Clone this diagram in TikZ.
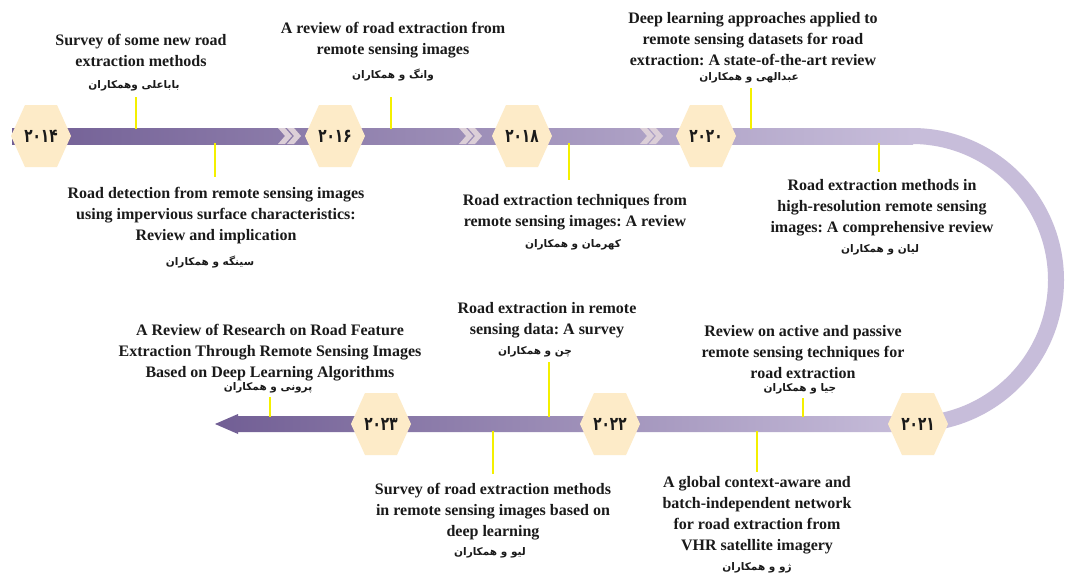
\documentclass[tikz,border=0pt]{standalone}
\usepackage{fontspec}
\setmainfont{Liberation Serif}
\newfontfamily\fa[Script=Arabic]{DejaVu Sans}
\newfontfamily\fadigits[Script=Arabic, FakeStretch=0.72]{DejaVu Sans}
\TeXXeTstate=1
\frenchspacing

\definecolor{hexfill}{HTML}{FDEBC8}
\definecolor{roaddark}{HTML}{715E94}
\definecolor{roadlight}{HTML}{C7BDDA}
\definecolor{tickyellow}{HTML}{F4F000}
\definecolor{chev}{HTML}{DCCFD8}
\definecolor{ink}{HTML}{1A1A1A}

\tikzset{
  title/.style={font=\bfseries\fontsize{16}{21}\selectfont, align=center, inner sep=0pt, text=ink},
  author/.style={font=\fa\bfseries\fontsize{10.5}{12}\selectfont, inner sep=0pt, text=ink},
  yearlbl/.style={font=\fadigits\bfseries\fontsize{19}{20}\selectfont, inner sep=0pt, text=ink},
  tick/.style={draw=tickyellow, line width=2.6pt},
  chevron/.style={fill=chev}
}

% a flat-topped hexagon with a year label in its centre
\newcommand\yearhex[4]{%
  \fill[hexfill] (#2-30,#3) -- (#2-16,#3-31) -- (#2+16,#3-31) -- (#2+30,#3)
      -- (#2+16,#3+31) -- (#2-16,#3+31) -- cycle;
  \node[yearlbl] (#1) at (#2,#3) {#4};}

% a pair of chevrons pointing right
\newcommand\chevpair[2]{%
  \foreach \d in {0,9}{
    \fill[chevron] (#1+\d,#2-8) -- (#1+\d+7,#2-8) -- (#1+\d+14,#2) -- (#1+\d+7,#2+8)
        -- (#1+\d,#2+8) -- (#1+\d+7,#2) -- cycle;}}

\begin{document}
\begin{tikzpicture}[x=1pt,y=-1pt]
\useasboundingbox (0,0) rectangle (1071,576);
\fill[white] (0,0) rectangle (1071,576);

% the road: upper straight, right-hand bend, lower straight ending in an arrow
\shade[left color=roaddark, right color=roadlight] (12,128) rectangle (913,144);
\draw[roadlight, line width=16pt] (912,136) arc (-90:90:144);
\shade[left color=roaddark, right color=roadlight]
  (913,416) -- (238,416) -- (238,414) -- (215,424) -- (238,434) -- (238,432) -- (913,432) -- cycle;

\chevpair{278}{136}
\chevpair{459}{136}
\chevpair{640}{136}

% yellow markers tying each paper to the road
\draw[tick] (136,97) -- (136,129);
\draw[tick] (215,143) -- (215,177);
\draw[tick] (391,97) -- (391,129);
\draw[tick] (569,143) -- (569,180);
\draw[tick] (751,88) -- (751,129);
\draw[tick] (879,143) -- (879,172);
\draw[tick] (803,398) -- (803,417);
\draw[tick] (757,431) -- (757,472);
\draw[tick] (549,362) -- (549,417);
\draw[tick] (493,431) -- (493,474);
\draw[tick] (270,397) -- (270,417);

% years
\yearhex{y2014}{41}{136}{۲۰۱۴}
\yearhex{y2016}{335}{136}{۲۰۱۶}
\yearhex{y2018}{522}{136}{۲۰۱۸}
\yearhex{y2020}{706}{136}{۲۰۲۰}
\yearhex{y2021}{918}{424}{۲۰۲۱}
\yearhex{y2022}{610}{424}{۲۰۲۲}
\yearhex{y2023}{381}{424}{۲۰۲۳}

% paper titles and authors
\node[title] (t1) at (141,50) {Survey of some new road\\extraction methods};
\node[author] (a1) at (134,86) {\beginR باباعلی وهمکاران\endR};

\node[title] (t2) at (393,40) {A review of road extraction from\\remote sensing images};
\node[author] (a2) at (393,75) {\beginR وانگ و همکاران\endR};

\node[title] (t3) at (753,39) {Deep learning approaches applied to\\remote sensing datasets for road\\extraction: A state-of-the-art review};
\node[author] (a3) at (749,78) {\beginR عبدالهی و همکاران\endR};

\node[title] (t4) at (216,216) {Road detection from remote sensing images\\using impervious surface characteristics:\\Review and implication};
\node[author] (a4) at (210,262) {\beginR سینگه و همکاران\endR};

\node[title] (t5) at (575,212) {Road extraction techniques from\\remote sensing images: A review};
\node[author] (a5) at (573,245) {\beginR کهرمان و همکاران\endR};

\node[title] (t6) at (882,208) {Road extraction methods in\\high-resolution remote sensing\\images: A comprehensive review};
\node[author] (a6) at (880,250) {\beginR لیان و همکاران\endR};

\node[title] (t7) at (803,352) {Review on active and passive\\remote sensing techniques for\\road extraction};
\node[author] (a7) at (800,389) {\beginR جیا و همکاران\endR};

\node[title] (t8) at (270,353) {A Review of Research on Road Feature\\Extraction Through Remote Sensing Images\\Based on Deep Learning Algorithms};
\node[author] (a8) at (268,388) {\beginR پرونی و همکاران\endR};

\node[title] (t9) at (547,320) {Road extraction in remote\\sensing data: A survey};
\node[author] (a9) at (535,352) {\beginR چن و همکاران\endR};

\node[title] (t10) at (493,512) {Survey of road extraction methods\\in remote sensing images based on\\deep learning};
\node[author] (a10) at (490,553) {\beginR لیو و همکاران\endR};

\node[title] (t11) at (757,515) {A global context-aware and\\batch-independent network\\for road extraction from\\VHR satellite imagery};
\node[author] (a11) at (757,568) {\beginR ژو و همکاران\endR};
\end{tikzpicture}
\end{document}
